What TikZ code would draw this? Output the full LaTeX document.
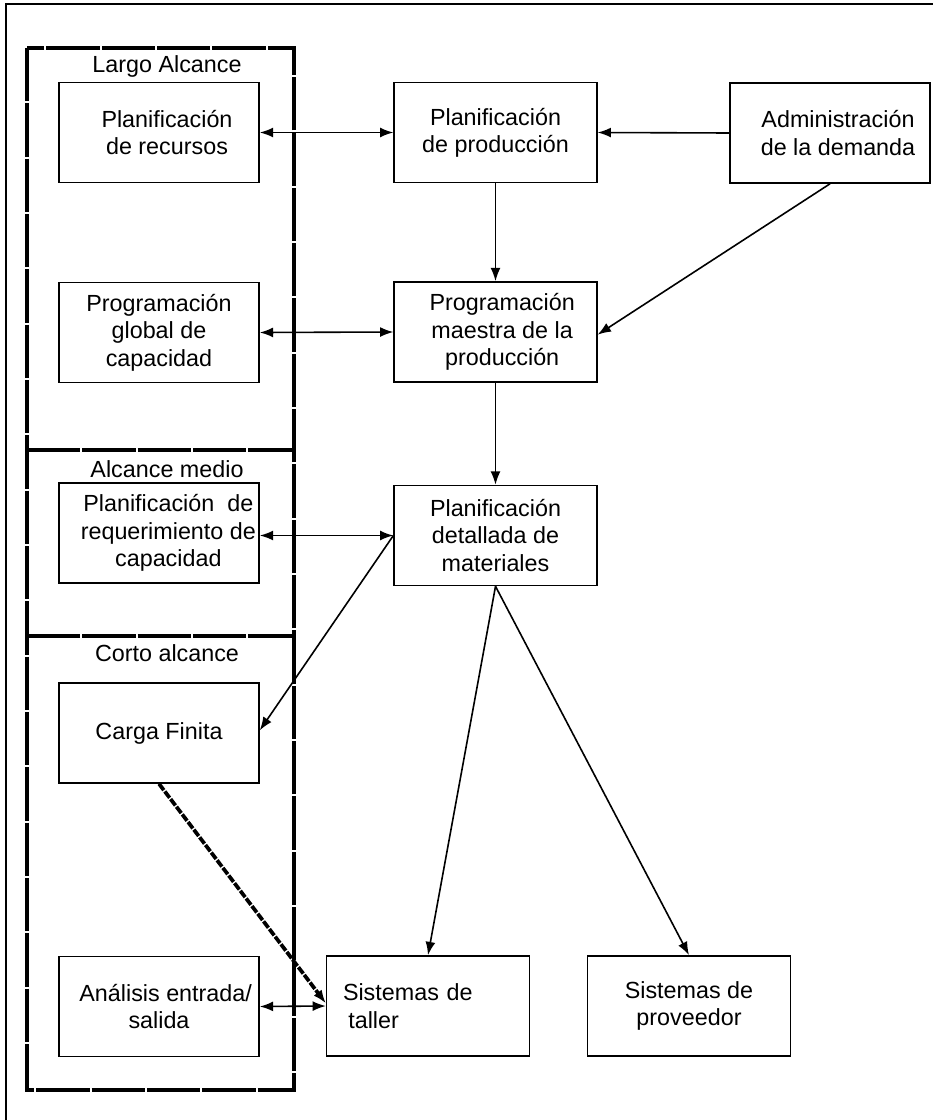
\documentclass[tikz,border=0pt]{standalone}
\usepackage{fontspec}
\setmainfont{Liberation Sans}
\usetikzlibrary{arrows.meta}
\begin{document}
\begin{tikzpicture}[x=0.75pt,y=-0.75pt,
  box/.style={draw, line width=1.2pt, minimum width=150pt, minimum height=75pt, align=center, inner sep=2pt, font=\fontsize{17.5}{20.5}\selectfont},
  midbox/.style={box, minimum width=152pt},
  lbl/.style={font=\fontsize{17.5}{20.5}\selectfont, anchor=base, inner sep=0pt},
  conn/.style={line width=1.2pt, -{Latex[length=10pt,width=7.5pt]}},
  dconn/.style={line width=1.2pt, {Latex[length=10pt,width=7.5pt]}-{Latex[length=10pt,width=7.5pt]}},
  frame/.style={line width=2.6pt, dash pattern=on 40pt off 1.5pt},
  dashconn/.style={line width=2.8pt, dash pattern=on 6pt off 1.2pt, -{Latex[length=10pt,width=7.5pt]}}
]
\useasboundingbox (0,0) rectangle (933,1120);
% outer frame
\draw[line width=1.2pt] (6,1120) -- (6,4) -- (933,4);
% range frame
\draw[frame] (27,48) rectangle (294,1090);
\draw[frame] (27,450) -- (294,450);
\draw[frame] (27,636) -- (294,636);
\node[lbl] (lta) at (167,73) {Largo Alcance};
\node[lbl] (mta) at (167,477) {Alcance medio};
\node[lbl] (cta) at (167,661) {Corto alcance};
% boxes
\node[box] (rec) at (159,132.5) {\hspace*{12pt}Planificación\\\hspace*{12pt}de recursos};
\node[midbox] (prod) at (495.5,132.5) {Planificación\\de producción};
\node[box] (adm) at (830,133) {\hspace*{12pt}Administración\\\hspace*{12pt}de la demanda};
\node[box] (glob) at (159,332.5) {Programación\\global de\\capacidad};
\node[midbox] (mae) at (495.5,332) {\hspace*{10pt}Programación\\\hspace*{10pt}maestra de la\\\hspace*{10pt}producción};
\node[box] (req) at (159,533) {\hspace*{14pt}Planificación~ de\\\hspace*{14pt}requerimiento de\\\hspace*{14pt}capacidad};
\node[midbox] (det) at (495.5,535.5) {Planificación\\detallada de\\materiales};
\node[box] (car) at (159,733) {Carga Finita};
\node[box] (ana) at (159,1006.5) {\hspace*{10pt}Análisis entrada/\\salida};
\node[midbox, text width=127.5pt, align=left] (tal) at (428,1006) {Sistemas de\\\hspace*{4pt}taller\\[6pt]};
\node[midbox] (prov) at (689,1006) {Sistemas de\\proveedor};
% connectors
\draw[dconn] (rec.east) -- (prod.west);
\draw[conn] (adm.west) -- (prod.east);
\draw[conn] (prod.south) -- (mae.north);
\draw[conn] (adm.south) -- ([yshift=-2pt]mae.east);
\draw[dconn] (glob.east) -- (mae.west);
\draw[conn] (mae.south) -- (det.north);
\draw[dconn] (det.west -| req.east) -- (det.west);
\draw[conn] (det.west) -- ([yshift=2pt]car.east);
\draw[conn] (det.south) -- (tal.north);
\draw[conn] (det.south) -- (prov.north);
\draw[dconn] (ana.east) -- (tal.west);
\draw[dashconn] (car.south) -- ([yshift=2pt]tal.west);
\end{tikzpicture}
\end{document}
